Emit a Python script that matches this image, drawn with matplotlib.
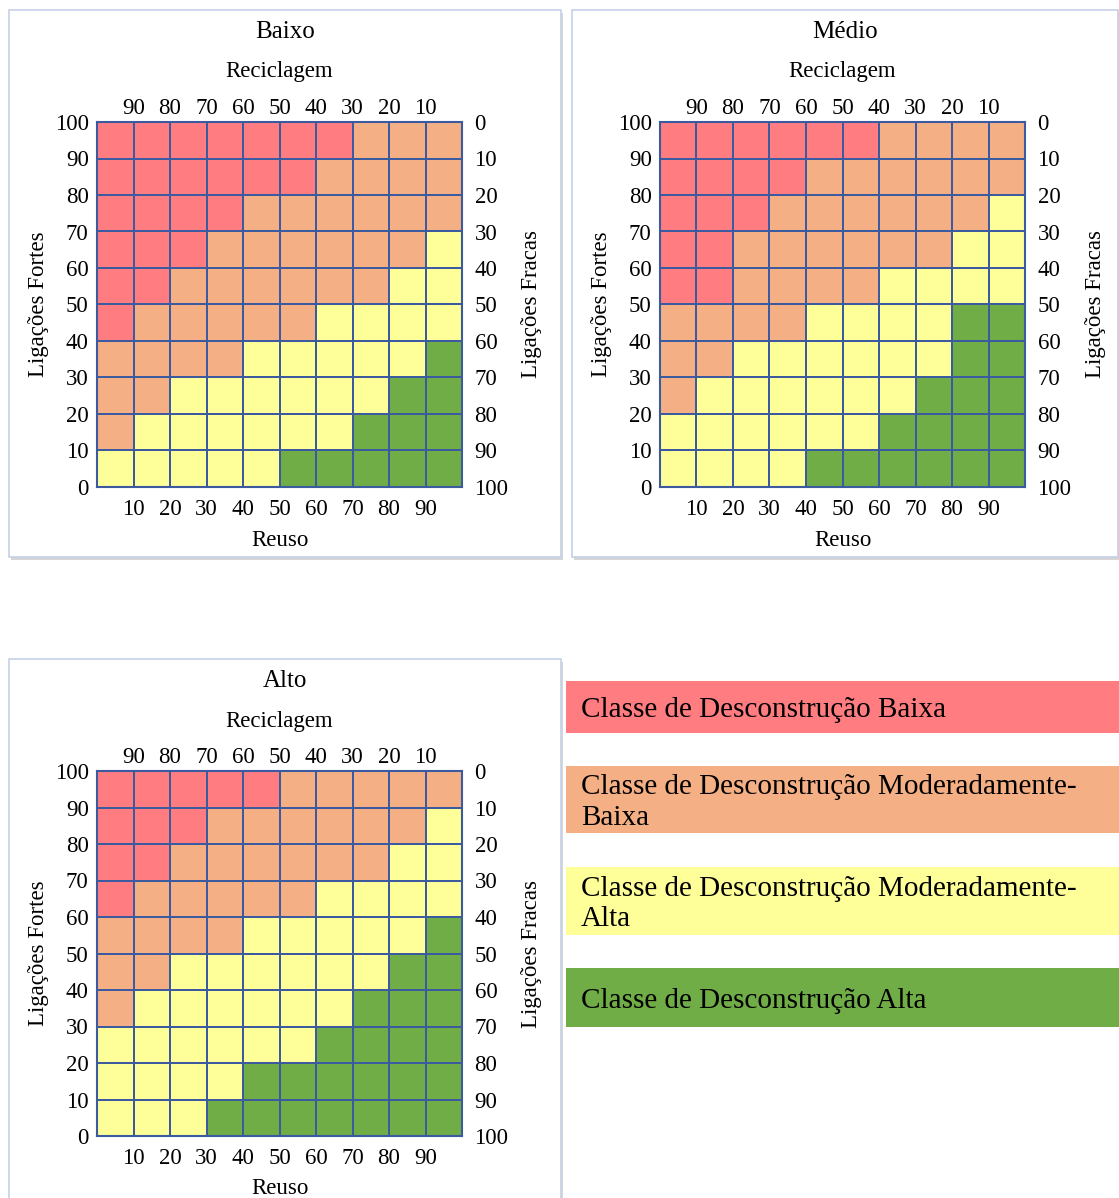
"""Classes de desconstrução: Baixo, Médio, Alto."""
import numpy as np
import matplotlib
matplotlib.use('Agg')
import matplotlib.pyplot as plt
from matplotlib.colors import ListedColormap
from matplotlib.patches import Rectangle

plt.rcParams['font.family'] = ['Liberation Serif', 'DejaVu Serif']

# classes per cell, rows from top (Ligações Fortes 100) to bottom (0)
# R = baixa, O = moderadamente-baixa, Y = moderadamente-alta, G = alta
grid_baixo = ['RRRRRRROOO',
              'RRRRRROOOO',
              'RRRROOOOOO',
              'RRROOOOOOY',
              'RROOOOOOYY',
              'ROOOOOYYYY',
              'OOOOYYYYYG',
              'OOYYYYYYGG',
              'OYYYYYYGGG',
              'YYYYYGGGGG']
grid_medio = ['RRRRRROOOO',
              'RRRROOOOOO',
              'RRROOOOOOY',
              'RROOOOOOYY',
              'RROOOOYYYY',
              'OOOOYYYYGG',
              'OOYYYYYYGG',
              'OYYYYYYGGG',
              'YYYYYYGGGG',
              'YYYYGGGGGG']
grid_alto = ['RRRRROOOOO',
             'RRROOOOOOY',
             'RROOOOOOYY',
             'ROOOOOYYYY',
             'OOOOYYYYYG',
             'OOYYYYYYGG',
             'OYYYYYYGGG',
             'YYYYYYGGGG',
             'YYYYGGGGGG',
             'YYYGGGGGGG']

panel_titles = ['Baixo', 'Médio', 'Alto']
class_codes = ['R', 'O', 'Y', 'G']
class_colors = ['#FF7C80', '#F4B084', '#FFFF99', '#70AD47']
class_labels = ['Classe de Desconstrução Baixa',
                'Classe de Desconstrução Moderadamente-\nBaixa',
                'Classe de Desconstrução Moderadamente-\nAlta',
                'Classe de Desconstrução Alta']

reuso_ticks = [10, 20, 30, 40, 50, 60, 70, 80, 90]
fortes_ticks = [0, 10, 20, 30, 40, 50, 60, 70, 80, 90, 100]

W, H = 1119, 1198
FS = 16.5
fig = plt.figure(figsize=(W / 100, H / 100), dpi=100)


def fx(x):
    return x / W


def fy(y):
    return 1 - y / H


def frame(x0, y0, x1, y1):
    fig.add_artist(Rectangle((fx(x0 + 2), fy(y1 + 3)), (x1 - x0) / W, (y1 - y0) / H,
                             transform=fig.transFigure, facecolor='#d6d6d6',
                             edgecolor='none', zorder=-3))
    fig.add_artist(Rectangle((fx(x0), fy(y1)), (x1 - x0) / W, (y1 - y0) / H,
                             transform=fig.transFigure, facecolor='white',
                             edgecolor='#c5d0e8', lw=1.2, zorder=-2))


def draw_grid(rows, title, box, gx, gy, gs=365):
    frame(*box)
    ax = fig.add_axes([fx(gx), fy(gy + gs), gs / W, gs / H])
    z = np.array([[class_codes.index(c) for c in r] for r in rows[::-1]])
    edges = np.arange(0, 101, 10)
    ax.pcolormesh(edges, edges, z, cmap=ListedColormap(class_colors),
                  vmin=-0.5, vmax=3.5, edgecolors='#3B5AA0', linewidth=1.3)
    ax.set_xlim(0, 100)
    ax.set_ylim(0, 100)
    for s in ax.spines.values():
        s.set_color('#3B5AA0')
        s.set_linewidth(1.5)

    ax.set_xticks(reuso_ticks)
    ax.set_xticklabels([str(t) for t in reuso_ticks])
    ax.set_yticks(fortes_ticks)
    ax.set_yticklabels([str(t) for t in fortes_ticks])
    ax.tick_params(axis='x', length=0, pad=9, labelsize=FS)
    ax.tick_params(axis='y', length=0, pad=6, labelsize=FS)

    top = ax.secondary_xaxis('top')
    top.set_xticks(reuso_ticks)
    top.set_xticklabels([str(100 - t) for t in reuso_ticks])
    top.tick_params(length=0, pad=2.5, labelsize=FS)
    top.spines['top'].set_visible(False)

    right = ax.secondary_yaxis('right')
    right.set_yticks(fortes_ticks)
    right.set_yticklabels([str(100 - t) for t in fortes_ticks])
    right.tick_params(length=0, pad=9, labelsize=FS)
    right.spines['right'].set_visible(False)

    cx = gx + gs / 2
    cy = gy + gs / 2
    fig.text(fx((box[0] + box[2]) / 2), fy(gy - 90), title, ha='center', va='center', fontsize=18)
    fig.text(fx(cx), fy(gy - 50), 'Reciclagem', ha='center', va='center', fontsize=FS)
    fig.text(fx(cx), fy(gy + gs + 53), 'Reuso', ha='center', va='center', fontsize=FS)
    fig.text(fx(gx - 58), fy(cy), 'Ligações Fortes', ha='center', va='center',
             rotation=90, fontsize=FS)
    fig.text(fx(gx + gs + 70), fy(cy), 'Ligações Fracas', ha='center', va='center',
             rotation=90, fontsize=FS)


draw_grid(grid_baixo, panel_titles[0], (9, 10, 561, 557), 97, 122)
draw_grid(grid_medio, panel_titles[1], (572, 10, 1118, 557), 660, 122)
draw_grid(grid_alto, panel_titles[2], (9, 659, 561, 1215), 97, 771)

# legend boxes
legend_boxes = [(681, 733), (766, 833), (867, 935), (968, 1027)]
for (y0, y1), col, lab in zip(legend_boxes, class_colors, class_labels):
    fig.add_artist(Rectangle((fx(566), fy(y1)), (W - 566) / W, (y1 - y0) / H,
                             transform=fig.transFigure, facecolor=col,
                             edgecolor='none'))
    fig.text(fx(581), fy((y0 + y1) / 2 + 3), lab, ha='left', va='center',
             fontsize=21, linespacing=1.25)

fig.savefig('out.png', dpi=100)
